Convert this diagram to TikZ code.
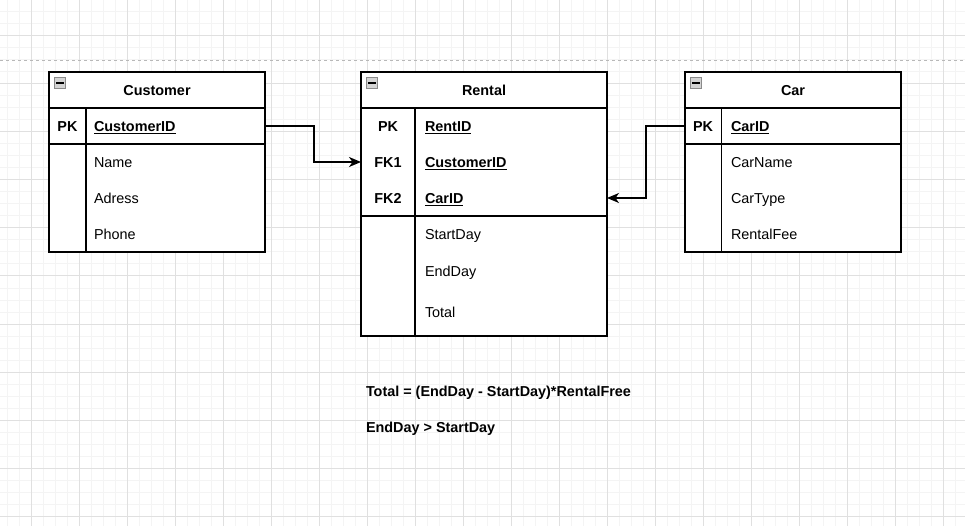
\documentclass[tikz,border=0pt]{standalone}
\usepackage{fontspec}
\setmainfont{Liberation Sans}
\usetikzlibrary{arrows.meta,calc}
\definecolor{gminor}{HTML}{F4F4F4}
\definecolor{gmajor}{HTML}{E0E0E0}
\definecolor{dashc}{HTML}{B8B8B8}
\definecolor{iconfill}{HTML}{D4D4D4}
\definecolor{iconedge}{HTML}{8A8A8A}
\tikzset{
  tbl/.style={draw=black, line width=1.3pt, fill=white, anchor=north west, inner sep=0pt, outer sep=0pt},
  rowbox/.style={anchor=north west, inner sep=0pt, outer sep=0pt},
  sep/.style={draw=black, line width=1.3pt},
  txt/.style={inner sep=0pt, outer sep=0pt, text height=10.4pt, text depth=0pt, font=\fontsize{14.4}{17}\selectfont},
  fld/.style={txt, anchor=west},
  keyf/.style={txt, anchor=west, font=\fontsize{14.4}{17}\selectfont\bfseries},
  keyl/.style={txt, font=\fontsize{14.4}{17}\selectfont\bfseries},
  ttl/.style={txt, font=\fontsize{14.4}{17}\selectfont\bfseries},
  note/.style={txt, anchor=west, font=\fontsize{14.4}{17}\selectfont\bfseries},
  conn/.style={draw=black, line width=1.3pt, -{Stealth[length=12pt,width=10pt,inset=3.5pt]}},
  icon/.style={draw=iconedge, fill=iconfill, line width=0.9pt, anchor=north west, minimum width=11pt, minimum height=11pt, inner sep=0pt}
}
\begin{document}
\begin{tikzpicture}[x=1pt,y=-1pt]
\useasboundingbox (0,0) rectangle (965,526);
\fill[white] (0,0) rectangle (965,526);
% grid
\foreach \i in {0,...,80} { \draw[gminor, line width=1pt] ({7.7+12*\i},0) -- ({7.7+12*\i},526); }
\foreach \i in {0,...,44} { \draw[gminor, line width=1pt] (0,{12*\i}) -- (965,{12*\i}); }
\foreach \i in {0,...,19} { \draw[gmajor, line width=1pt] ({31.7+48*\i},0) -- ({31.7+48*\i},526); }
\foreach \i in {0,...,10} { \draw[gmajor, line width=1pt] (0,{36+48*\i}) -- (965,{36+48*\i}); }
\draw[dashc, line width=1pt, dash pattern=on 3pt off 3pt] (0,60.3) -- (965,60.3);

% ---------- Customer ----------
\node[tbl, minimum width=216pt, minimum height=180pt] (cust) at (49,72) {};
\node[rowbox, minimum width=216pt, minimum height=36pt] (custhead) at (49,72) {};
\node[rowbox, minimum width=216pt, minimum height=36pt] (custpk) at (49,108) {};
\draw[sep] (custhead.south west) -- (custhead.south east);
\draw[sep] (custpk.south west) -- (custpk.south east);
\coordinate (custdivt) at (86,108);
\coordinate (custdivb) at (86,252);
\draw[sep] (custdivt) -- (custdivb);
\node[icon] (custicon) at (54,77) {};
\draw[black, line width=1.3pt] ($(custicon.west)+(2,0)$) -- ($(custicon.east)+(-2,0)$);
\node[ttl] (custtitle) at (157,90) {Customer};
\node[keyl] (custpkl) at (67.5,126) {PK};
\node[keyf] (custid) at (94,126) {\underline{CustomerID}};
\node[fld] (custname) at (94,162) {Name};
\node[fld] (custadr) at (94,198) {Adress};
\node[fld] (custphone) at (94,234) {Phone};

% ---------- Rental ----------
\node[tbl, minimum width=246pt, minimum height=264pt] (rent) at (361,72) {};
\node[rowbox, minimum width=246pt, minimum height=36pt] (renthead) at (361,72) {};
\node[rowbox, minimum width=246pt, minimum height=36pt] (rentpk) at (361,108) {};
\node[rowbox, minimum width=246pt, minimum height=36pt] (rentfka) at (361,144) {};
\node[rowbox, minimum width=246pt, minimum height=36pt] (rentfkb) at (361,180) {};
\draw[sep] (renthead.south west) -- (renthead.south east);
\draw[sep] (rentfkb.south west) -- (rentfkb.south east);
\coordinate (rentdivt) at (415,108);
\coordinate (rentdivb) at (415,336);
\draw[sep] (rentdivt) -- (rentdivb);
\node[icon] (renticon) at (366,77) {};
\draw[black, line width=1.3pt] ($(renticon.west)+(2,0)$) -- ($(renticon.east)+(-2,0)$);
\node[ttl] (renttitle) at (484,90) {Rental};
\node[keyl] (rentpkl) at (388,126) {PK};
\node[keyl] (rentfkal) at (388,162) {FK1};
\node[keyl] (rentfkbl) at (388,198) {FK2};
\node[keyf] (rentid) at (425,126) {\underline{RentID}};
\node[keyf] (rentcust) at (425,162) {\underline{CustomerID}};
\node[keyf] (rentcar) at (425,198) {\underline{CarID}};
\node[fld] (rentstart) at (425,234) {StartDay};
\node[fld] (rentend) at (425,271) {EndDay};
\node[fld] (renttotal) at (425,312) {Total};

% ---------- Car ----------
\node[tbl, minimum width=216pt, minimum height=180pt] (car) at (685,72) {};
\node[rowbox, minimum width=216pt, minimum height=36pt] (carhead) at (685,72) {};
\node[rowbox, minimum width=216pt, minimum height=36pt] (carpk) at (685,108) {};
\draw[sep] (carhead.south west) -- (carhead.south east);
\draw[sep] (carpk.south west) -- (carpk.south east);
\coordinate (cardivt) at (721.7,108);
\coordinate (cardivb) at (721.7,252);
\draw[sep] (cardivt) -- (cardivb);
\node[icon] (caricon) at (690,77) {};
\draw[black, line width=1.3pt] ($(caricon.west)+(2,0)$) -- ($(caricon.east)+(-2,0)$);
\node[ttl] (cartitle) at (793,90) {Car};
\node[keyl] (carpkl) at (703,126) {PK};
\node[keyf] (carid) at (731,126) {\underline{CarID}};
\node[fld] (carname) at (731,162) {CarName};
\node[fld] (cartype) at (731,198) {CarType};
\node[fld] (carfee) at (731,234) {RentalFee};

% ---------- connectors ----------
\coordinate (bendA) at (314,126);
\coordinate (bendB) at (646,126);
\draw[conn] (custpk.east) -- (bendA) |- (rentfka.west);
\draw[conn] (carpk.west) -- (bendB) |- (rentfkb.east);

% ---------- notes ----------
\node[note] (noteA) at (366,391) {Total = (EndDay - StartDay)*RentalFree};
\node[note] (noteB) at (366,427) {EndDay > StartDay};
\end{tikzpicture}
\end{document}
